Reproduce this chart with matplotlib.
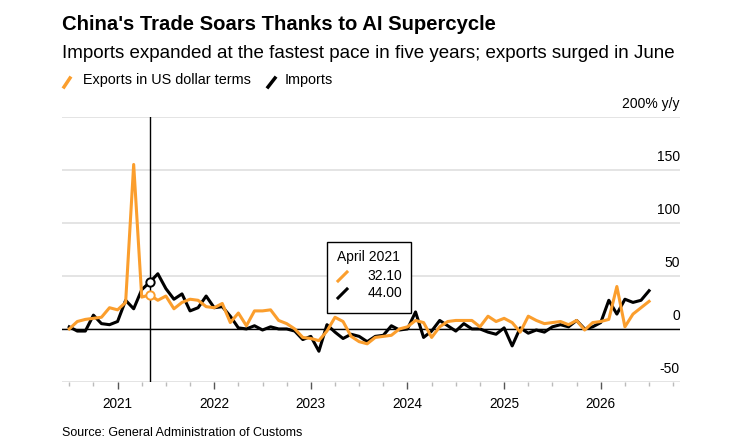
import numpy as np
import matplotlib
matplotlib.use("Agg")
import matplotlib.pyplot as plt
from matplotlib.lines import Line2D
from matplotlib.patches import Rectangle

plt.rcParams['font.family'] = ['Liberation Sans', 'DejaVu Sans']

# Monthly y/y change, Jun 2020 .. Jun 2026
exports = [0, 7, 9, 10, 11, 20, 18, 25, 155, 30, 32.1, 27, 31, 19, 25, 28, 27, 21,
           20, 24, 6, 15, 3, 17, 17, 18, 8, 5, 0, -8, -9, -11, -2, 11, 7, -7,
           -12, -14, -8, -7, -6, 0, 2, 8, 6, -8, 2, 7, 8, 8, 8, 2, 12, 7,
           10, 6, -3, 12, 8, 5, 6, 7, 4, 8, -1, 6, 7, 9, 40, 2, 14, 20, 26]
imports = [2, -2, -2, 13, 5, 4, 7, 27, 19, 37, 44, 52, 38, 28, 33, 17, 20, 31,
           20, 21, 12, 1, 0, 3, -1, 2, 0, 0, -2, -10, -7, -21, 4, -3, -9, -5,
           -7, -12, -7, -6, 3, -1, 0, 16, -8, -2, 8, 3, -2, 5, 0, 0, -3, -5,
           1, -16, 1, -4, -1, -3, 2, 4, 2, 8, 0, 2, 6, 27, 14, 28, 25, 27, 36]
years = [2021, 2022, 2023, 2024, 2025, 2026]
y_ticks = [-50, 0, 50, 100, 150, 200]
y_labels = ['-50', '0', '50', '100', '150', '200% y/y']

# x as fractional year, points at month ends
x = 2020.5 + np.arange(len(exports)) / 12
hover = 10  # April 2021

ORANGE = '#fb9e2d'
W, H = 729, 445

fig = plt.figure(figsize=(W / 100, H / 100), dpi=100)


def fx(px):
    return px / W


def fy(py):
    return 1 - py / H


ax = fig.add_axes([fx(62), fy(382), fx(680) - fx(62), fy(116.7) - fy(382)])
ax.set_xlim(2020.425, 2026.82)
ax.set_ylim(-50, 200)

for v in y_ticks:
    ax.axhline(v, color='#dcdcdc', lw=1.1, zorder=0)
ax.axhline(0, color='black', lw=1, zorder=1)

ax.plot(x, exports, color=ORANGE, lw=2.2, zorder=3)
ax.plot(x, imports, color='black', lw=2.2, zorder=2)

ax.axvline(x[hover], color='black', lw=1, zorder=4)
ax.plot(x[hover], exports[hover], 'o', ms=6, mfc='white', mec=ORANGE, mew=1.4, zorder=5)
ax.plot(x[hover], imports[hover], 'o', ms=6, mfc='white', mec='black', mew=1.4, zorder=5)

for sp in ax.spines.values():
    sp.set_visible(False)
ax.set_yticks([])

# y labels on the right, above gridlines
for v, lab in zip(y_ticks, y_labels):
    ax.annotate(lab, (1, v), xycoords=('axes fraction', 'data'), xytext=(0, 4),
                textcoords='offset points', ha='right', va='bottom', fontsize=10)

# x axis: quarterly minor ticks, yearly major ticks
ax.set_xticks(years)
ax.set_xticklabels([str(y) for y in years], fontsize=9.8)
ax.set_xticks([2020.5 + q / 4 for q in range(26)], minor=True)
ax.tick_params(axis='x', which='major', length=5, color='#555555', width=1, pad=6)
ax.tick_params(axis='x', which='minor', length=3, color='#bbbbbb', width=1)

# titles
fig.text(fx(62), fy(25), "China's Trade Soars Thanks to AI Supercycle",
         fontsize=14.6, fontweight='bold', va='center')
fig.text(fx(62), fy(53), "Imports expanded at the fastest pace in five years; exports surged in June",
         fontsize=13.5, va='center')

# legend
fig.add_artist(Line2D([fx(64), fx(70)], [fy(87), fy(78)], color=ORANGE, lw=2.5,
                      transform=fig.transFigure))
fig.text(fx(83), fy(80), "Exports in US dollar terms", fontsize=10.4, va='center')
fig.add_artist(Line2D([fx(268), fx(275)], [fy(87), fy(78)], color='black', lw=2.5,
                      transform=fig.transFigure))
fig.text(fx(285), fy(80), "Imports", fontsize=10.4, va='center')

# tooltip
fig.add_artist(Rectangle((fx(327), fy(313)), fx(411) - fx(327), fy(242) - fy(313),
                         transform=fig.transFigure, facecolor='white', edgecolor='black',
                         lw=1, zorder=10))
fig.text(fx(337), fy(257), "April 2021", fontsize=10, va='center', zorder=11)
fig.add_artist(Line2D([fx(338), fx(347)], [fy(281), fy(272)], color=ORANGE, lw=2.2,
                      transform=fig.transFigure, zorder=11))
fig.text(fx(402), fy(276), "%.2f" % exports[hover], fontsize=10, va='center', ha='right', zorder=11)
fig.add_artist(Line2D([fx(338), fx(347)], [fy(298), fy(289)], color='black', lw=2.2,
                      transform=fig.transFigure, zorder=11))
fig.text(fx(402), fy(293), "%.2f" % imports[hover], fontsize=10, va='center', ha='right', zorder=11)

fig.text(fx(62), fy(433), "Source: General Administration of Customs", fontsize=9, va='center')

fig.savefig('out.png', dpi=100)
